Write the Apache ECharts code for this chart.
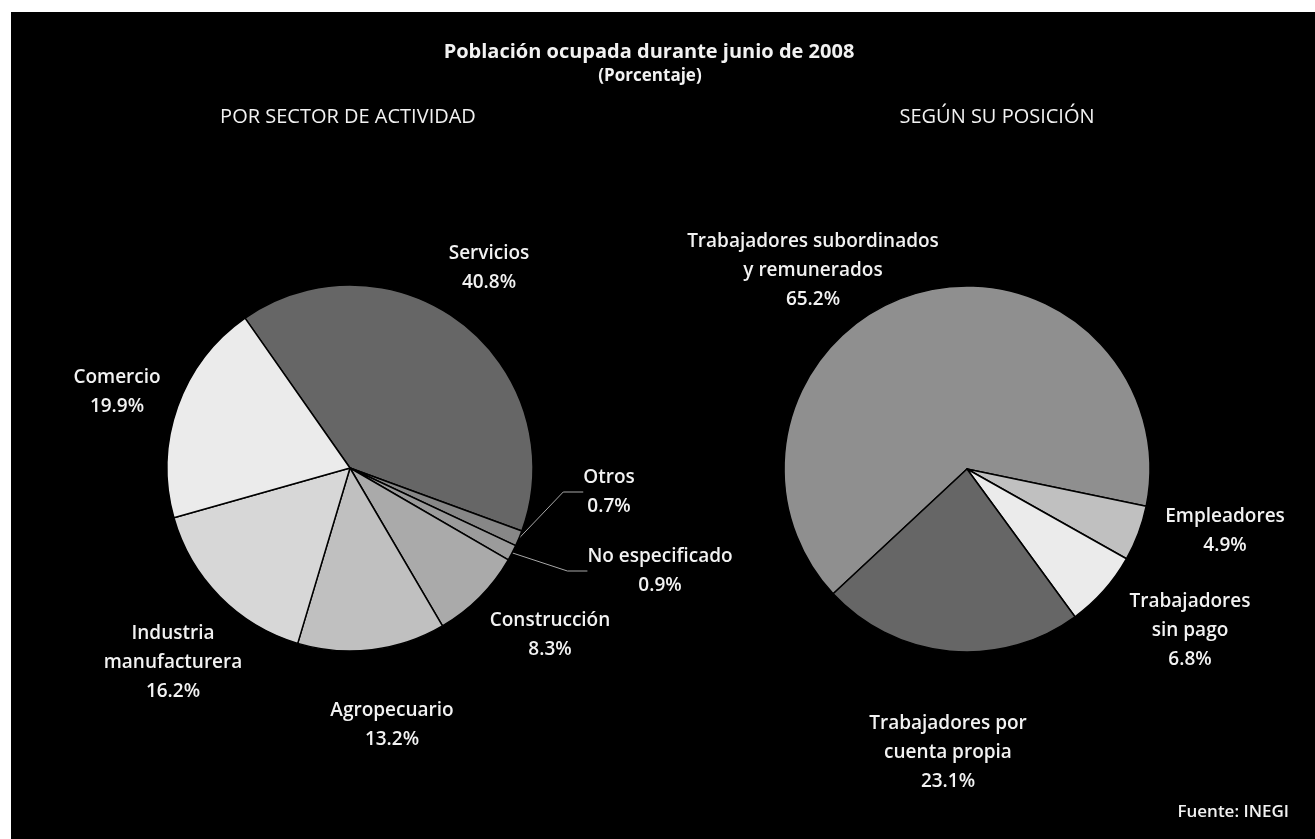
<!DOCTYPE html>
<html>
<head>
<meta charset="utf-8">
<script src="https://cdn.jsdelivr.net/npm/echarts@6/dist/echarts.min.js"></script>
<style>
  html, body { margin: 0; padding: 0; background: #ffffff; width: 1315px; height: 839px; overflow: hidden; }
  #chart { position: absolute; left: 11px; top: 12px; width: 1304px; height: 827px; background: #000; }
</style>
</head>
<body>
<div id="chart"></div>
<script>
// ---- data ----
const sectorNames = ['Servicios', 'Otros', 'No especificado', 'Construcción', 'Agropecuario', 'Industria\nmanufacturera', 'Comercio'];
const sectorValues = [40.8, 0.7, 0.9, 8.3, 13.2, 16.2, 19.9];
const positionNames = ['Trabajadores subordinados\ny remunerados', 'Empleadores', 'Trabajadores\nsin pago', 'Trabajadores por\ncuenta propia'];
const positionValues = [65.2, 4.9, 6.8, 23.1];

const titleText = 'Población ocupada durante junio de 2008';
const subtitleText = '(Porcentaje)';
const leftHeading = 'POR SECTOR DE ACTIVIDAD';
const rightHeading = 'SEGÚN SU POSICIÓN';
const sourceText = 'Fuente: INEGI';

// ---- styles ----
const sectorColors = ['#666666', '#878787', '#9b9b9b', '#aaaaaa', '#c0c0c0', '#d7d7d7', '#ebebeb'];
const positionColors = ['#8f8f8f', '#c0c0c0', '#ebebeb', '#666666'];
const FONT = '"Open Sans", "Noto Sans", sans-serif';
const TXT = '#f2f2f2';

// label anchor (centre of text block) in chart coordinates
const sectorLabelPos = [[478, 256], [598, 480], [649, 559], [539, 623], [381, 713], [162, 651], [106, 380]];
const positionLabelPos = [[802, 259], [1214, 519], [1179, 619], [937, 741]];

const chart = echarts.init(document.getElementById('chart'));

function makeData(names, values, colors, withLine) {
  return names.map((n, i) => ({
    name: n,
    value: values[i],
    itemStyle: { color: colors[i] },
    labelLine: { show: withLine.indexOf(i) >= 0 }
  }));
}

function layoutFor(pos) {
  return function (p) {
    const xy = pos[p.dataIndex];
    return { x: xy[0], y: xy[1], align: 'center', verticalAlign: 'middle' };
  };
}

const commonLabel = {
  show: true,
  position: 'outside',
  color: TXT,
  fontFamily: FONT,
  fontSize: 19,
  fontWeight: 600,
  lineHeight: 29,
  align: 'center',
  formatter: p => p.name + '\n' + p.value.toFixed(1) + '%'
};

chart.setOption({
  backgroundColor: '#000000',
  animation: false,
  graphic: [
    { type: 'text', x: 638, y: 40, style: { text: titleText, fill: TXT, font: 'bold 20px ' + FONT, textAlign: 'center', textVerticalAlign: 'middle' } },
    { type: 'text', x: 639, y: 64, style: { text: subtitleText, fill: TXT, font: 'bold 17px ' + FONT, textAlign: 'center', textVerticalAlign: 'middle' } },
    { type: 'text', x: 337, y: 105, style: { text: leftHeading, fill: TXT, font: 'normal 20px ' + FONT, textAlign: 'center', textVerticalAlign: 'middle' } },
    { type: 'text', x: 986, y: 105, style: { text: rightHeading, fill: TXT, font: 'normal 20px ' + FONT, textAlign: 'center', textVerticalAlign: 'middle' } },
    { type: 'text', x: 1278, y: 800, style: { text: sourceText, fill: TXT, font: '600 17px ' + FONT, textAlign: 'right', textVerticalAlign: 'middle' } }
  ],
  series: [
    {
      type: 'pie',
      center: [339, 456],
      radius: 183,
      startAngle: 125,
      minAngle: 5,
      clockwise: true,
      avoidLabelOverlap: false,
      itemStyle: { borderColor: '#000', borderWidth: 1.5 },
      label: commonLabel,
      labelLine: { show: true, length: 20, length2: 20, lineStyle: { color: '#a8a8a8', width: 1 } },
      labelLayout: layoutFor(sectorLabelPos),
      data: makeData(sectorNames, sectorValues, sectorColors, [1, 2])
    },
    {
      type: 'pie',
      center: [956, 457],
      radius: 183,
      startAngle: 223,
      clockwise: true,
      avoidLabelOverlap: false,
      itemStyle: { borderColor: '#000', borderWidth: 1.5 },
      label: commonLabel,
      labelLine: { show: false },
      labelLayout: layoutFor(positionLabelPos),
      data: makeData(positionNames, positionValues, positionColors, [])
    }
  ]
});
</script>
</body>
</html>
